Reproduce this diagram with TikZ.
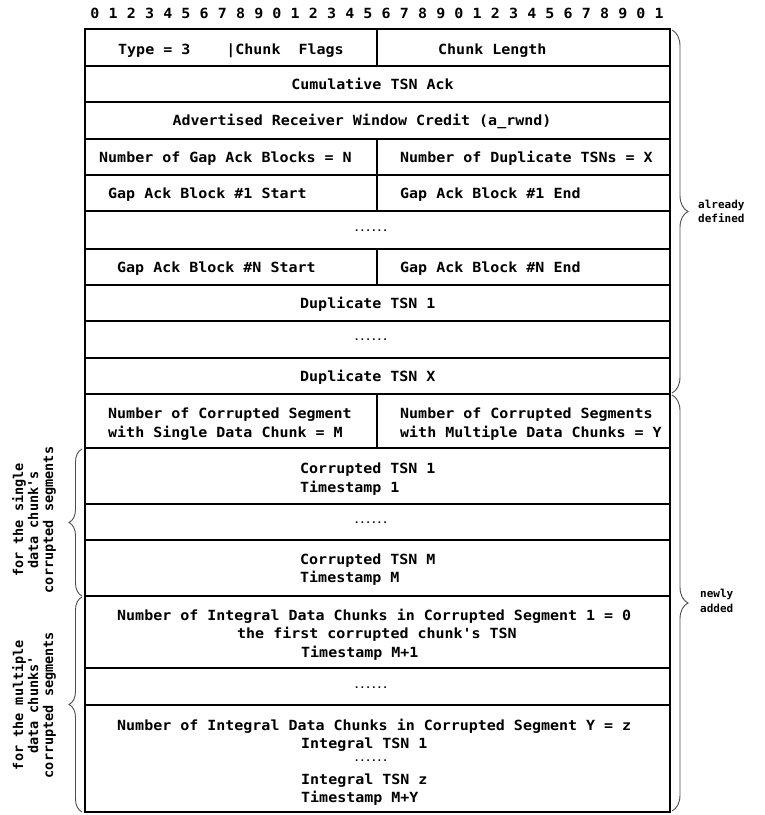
\documentclass[tikz,border=0pt]{standalone}
\usepackage{fontspec}
\setmonofont{DejaVu Sans Mono}
\newfontfamily\fieldfont[FakeStretch=1.07]{DejaVu Sans Mono Bold}
\usetikzlibrary{decorations.pathreplacing}
\begin{document}
\begin{tikzpicture}[x=1pt,y=-1pt,
  every node/.style={inner sep=0pt},
  fld/.style={font=\fieldfont\fontsize{14}{18}\selectfont},
  fw/.style={fld,anchor=base west},
  fc/.style={fld,anchor=base},
  dots/.style={font=\ttfamily\bfseries\fontsize{9.5}{10}\selectfont,anchor=base},
  side/.style={font=\ttfamily\bfseries\fontsize{13.5}{15}\selectfont,align=center,rotate=90},
  rside/.style={font=\ttfamily\bfseries\fontsize{11}{14}\selectfont,align=left,anchor=base west},
  frame/.style={line width=2pt,black},
  rowline/.style={line width=2pt,black},
  divline/.style={line width=1.6pt,black},
  bracestyle/.style={decorate,decoration={brace,amplitude=#1},line width=0.9pt,black!70}]
\useasboundingbox (0,0) rectangle (765,815);
% ruler
\foreach \i in {0,...,31}{
  \pgfmathtruncatemacro\d{mod(\i,10)}
  \node[fc] (r\i) at ({95+\i*18.2},18) {\d};
}
% frame and rows
\draw[frame] (85,29) rectangle (670,812);
\foreach \y in {66,102,139,175,211,249,285,321,358,394,448,504,540,596,668,705}
  \draw[rowline] (85,\y) -- (670,\y);
\foreach \a/\b in {29/66,139/175,175/211,249/285,394/448}
  \draw[divline] (377,\a) -- (377,\b);
% texts
\node[fw] (t1a) at (118,54) {Type = 3\ \ \ \ |Chunk\ \ Flags};
\node[fw] (t1b) at (438,54) {Chunk Length};
\node[fc] (t2) at (372.5,89) {Cumulative TSN Ack};
\node[fc] (t3) at (362,125) {Advertised Receiver Window Credit (a\_rwnd)};
\node[fw] (t4a) at (99,162) {Number of Gap Ack Blocks = N};
\node[fw] (t4b) at (400,162) {Number of Duplicate TSNs = X};
\node[fw] (t5a) at (108,198) {Gap Ack Block \#1 Start};
\node[fw] (t5b) at (400,198) {Gap Ack Block \#1 End};
\node[dots] (t6) at (371,231.5) {......};
\node[fw] (t7a) at (117,272) {Gap Ack Block \#N Start};
\node[fw] (t7b) at (400,272) {Gap Ack Block \#N End};
\node[fw] (t8) at (300,308) {Duplicate TSN 1};
\node[dots] (t9) at (371,340.5) {......};
\node[fw] (t10) at (300,381) {Duplicate TSN X};
\node[fw] (t11a) at (108,418) {Number of Corrupted Segment};
\node[fw] (t11b) at (108,437) {with Single Data Chunk = M};
\node[fw] (t11c) at (400,418) {Number of Corrupted Segments};
\node[fw] (t11d) at (400,437) {with Multiple Data Chunks = Y};
\node[fw] (t12a) at (300,473) {Corrupted TSN 1};
\node[fw] (t12b) at (300,492) {Timestamp 1};
\node[dots] (t13) at (371,523.5) {......};
\node[fw] (t14a) at (300,564) {Corrupted TSN M};
\node[fw] (t14b) at (300,582) {Timestamp M};
\node[fw] (t15a) at (117,620) {Number of Integral Data Chunks in Corrupted Segment 1 = 0};
\node[fw] (t15b) at (237,638) {the first corrupted chunk's TSN};
\node[fw] (t15c) at (301,657) {Timestamp M+1};
\node[dots] (t16) at (371,688.5) {......};
\node[fw] (t17a) at (117,730) {Number of Integral Data Chunks in Corrupted Segment Y = z};
\node[fw] (t17b) at (301,748) {Integral TSN 1};
\node[dots] (t17c) at (371,761.5) {......};
\node[fw] (t17d) at (301,784) {Integral TSN z};
\node[fw] (t17e) at (301,802) {Timestamp M+Y};
% right braces
\coordinate (ra1) at (672,30);
\coordinate (ra2) at (672,393);
\coordinate (rb1) at (672,395);
\coordinate (rb2) at (672,811);
\draw[bracestyle=16pt] (ra1) -- (ra2);
\draw[bracestyle=16pt] (rb1) -- (rb2);
\node[rside] (la1) at (698,208) {already};
\node[rside] (la2) at (698,222) {defined};
\node[rside] (lb1) at (700,597) {newly};
\node[rside] (lb2) at (700,612) {added};
% left braces
\coordinate (lc1) at (82,596);
\coordinate (lc2) at (82,449);
\coordinate (ld1) at (82,812);
\coordinate (ld2) at (82,597);
\draw[bracestyle=13pt] (lc1) -- (lc2);
\draw[bracestyle=13pt] (ld1) -- (ld2);
\node[side] (s1) at (34,520) {for the single\\data chunk's\\corrupted segments};
\node[side] (s2) at (34,705) {for the multiple\\data chunks'\\corrupted segments};
\end{tikzpicture}
\end{document}
